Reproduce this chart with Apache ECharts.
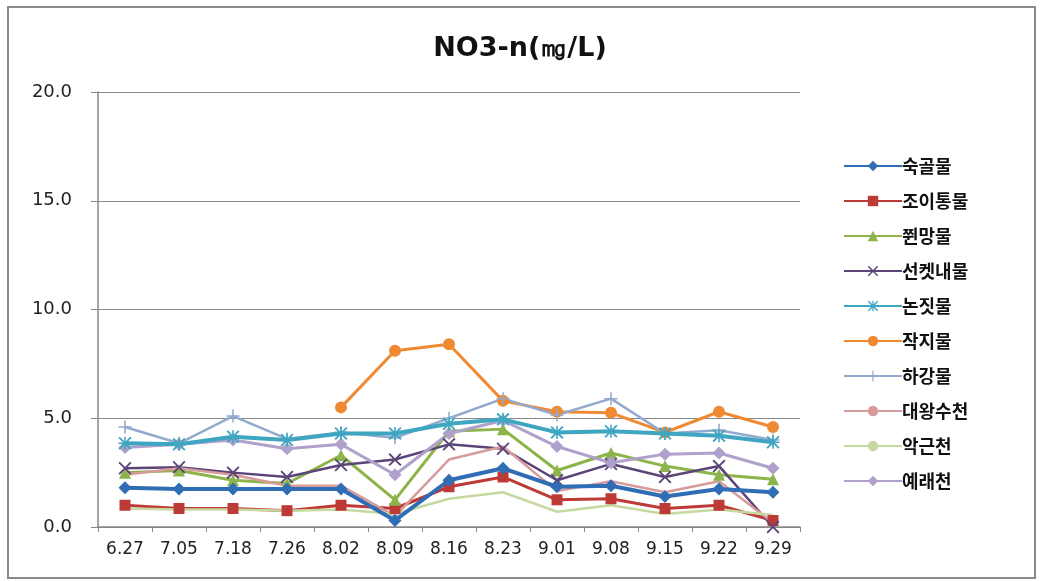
<!DOCTYPE html>
<html><head><meta charset="utf-8">
<script src="https://cdn.jsdelivr.net/npm/echarts@6/dist/echarts.min.js"></script>
<style>html,body{margin:0;padding:0;background:#fff}#c{width:1040px;height:581px}</style>
</head><body><div id="c"></div>
<script>
const categories = ['6.27','7.05','7.18','7.26','8.02','8.09','8.16','8.23','9.01','9.08','9.15','9.22','9.29'];
const yTicks = [0, 5, 10, 15, 20];
const sukgol   = [1.8,1.75,1.75,1.75,1.75,0.3,2.15,2.7,1.85,1.9,1.4,1.75,1.6];
const joitong  = [1.0,0.85,0.85,0.75,1.0,0.85,1.85,2.3,1.25,1.3,0.85,1.0,0.3];
const jjwonmang= [2.5,2.6,2.15,2.0,3.3,1.25,4.4,4.5,2.6,3.4,2.8,2.4,2.2];
const seonket  = [2.7,2.75,2.5,2.3,2.85,3.1,3.8,3.6,2.15,2.9,2.3,2.8,0.0];
const nonjit   = [3.85,3.8,4.15,4.0,4.3,4.3,4.75,4.95,4.35,4.4,4.3,4.2,3.9];
const jakji    = [null,null,null,null,5.5,8.1,8.4,5.8,5.3,5.25,4.35,5.3,4.6];
const hagang   = [4.6,3.85,5.1,4.05,4.35,4.1,5.0,5.9,5.15,5.9,4.3,4.45,4.0];
const daewang  = [2.4,2.7,2.4,1.9,1.9,0.5,3.1,3.7,1.65,2.1,1.6,2.1,0.2];
const akgeun   = [0.85,0.8,0.8,0.75,0.8,0.6,1.3,1.6,0.7,1.0,0.6,0.8,0.55];
const yerae    = [3.65,3.8,4.0,3.6,3.8,2.4,4.3,4.9,3.7,2.95,3.35,3.4,2.7];
const names = ['숙골물','조이통물','쮠망물','선켓내물','논짓물','작지물','하강물','대왕수천','악근천','예래천'];

const X = 'path://M1,0L5,4L9,0L10,1L6,5L10,9L9,10L5,6L1,10L0,9L4,5L0,1Z';
const PLUS = 'path://M4.4,0H5.6V4.4H10V5.6H5.6V10H4.4V5.6H0V4.4H4.4Z';
const STAR = 'path://M4.4,0H5.6V10H4.4Z M0,4.4H10V5.6H0Z M1,0L5,4L9,0L10,1L6,5L10,9L9,10L5,6L1,10L0,9L4,5L0,1Z';

const specs = [
  {d:sukgol,   c:'#2F6DB5', w:4,   s:'diamond', z:14},
  {d:joitong,  c:'#BE3A36', w:3,   s:'rect', z:11},
  {d:jjwonmang,c:'#8DB44A', w:3,   s:'triangle', z:11},
  {d:seonket,  c:'#5A4478', w:2.5, s:X, z:11},
  {d:nonjit,   c:'#3FA6C2', w:4,   s:STAR, z:13},
  {d:jakji,    c:'#F08A32', w:3,   s:'circle', z:11},
  {d:hagang,   c:'#93AACF', w:2.5, s:PLUS, z:11},
  {d:daewang,  c:'#D99A9A', w:2.5, s:'none', z:11},
  {d:akgeun,   c:'#C5D9A0', w:2.5, s:'none', z:11},
  {d:yerae,    c:'#AFA0CC', w:3,   s:'diamond', z:11}
];
const sizes = {diamond:13, rect:11, triangle:12, circle:12};

const series = specs.map((p,i)=>({
  name: names[i], type:'line', data:p.d, z:p.z,
  symbol:p.s, symbolSize: sizes[p.s] || 13, showSymbol:p.s!=='none',
  connectNulls:false,
  lineStyle:{color:p.c, width:p.w},
  itemStyle:{color:p.c},
  emphasis:{disabled:true}
}));

const chart = echarts.init(document.getElementById('c'));
chart.setOption({
  animation:false,
  backgroundColor:'#fff',
  title:{text:'NO3-n(㎎/L)', left:'center', top:30,
    textStyle:{fontFamily:'DejaVu Sans', fontSize:27, fontWeight:'bold', color:'#111'}},
  graphic:[{type:'rect', shape:{x:8,y:7,width:1027,height:571},
    style:{fill:'none', stroke:'#8a8a8a', lineWidth:2}, silent:true, z:-1}],
  grid:{left:98, right:240, top:92, bottom:54, containLabel:false},
  legend:{orient:'vertical', left:838, top:152, itemWidth:58, itemHeight:13, itemGap:17,
    data:names,
    textStyle:{fontFamily:'Noto Sans CJK KR', fontSize:18, fontWeight:'bold', color:'#111', padding:[0,0,0,-5]}},
  xAxis:{type:'category', data:categories, boundaryGap:true,
    axisLine:{lineStyle:{color:'#888', width:1.5}},
    axisTick:{show:true, length:5, lineStyle:{color:'#888'}},
    axisLabel:{fontFamily:'DejaVu Sans', fontSize:17, color:'#222', margin:14, interval:0}},
  yAxis:{type:'value', min:yTicks[0], max:yTicks[yTicks.length-1], interval:5,
    axisLine:{show:true, lineStyle:{color:'#888', width:1.5}},
    axisTick:{show:true, length:7, lineStyle:{color:'#888'}},
    splitLine:{lineStyle:{color:'#888', width:1}},
    axisLabel:{fontFamily:'DejaVu Sans', fontSize:18, color:'#222', margin:26,
      formatter:v=>v.toFixed(1)}},
  series
});
</script></body></html>
